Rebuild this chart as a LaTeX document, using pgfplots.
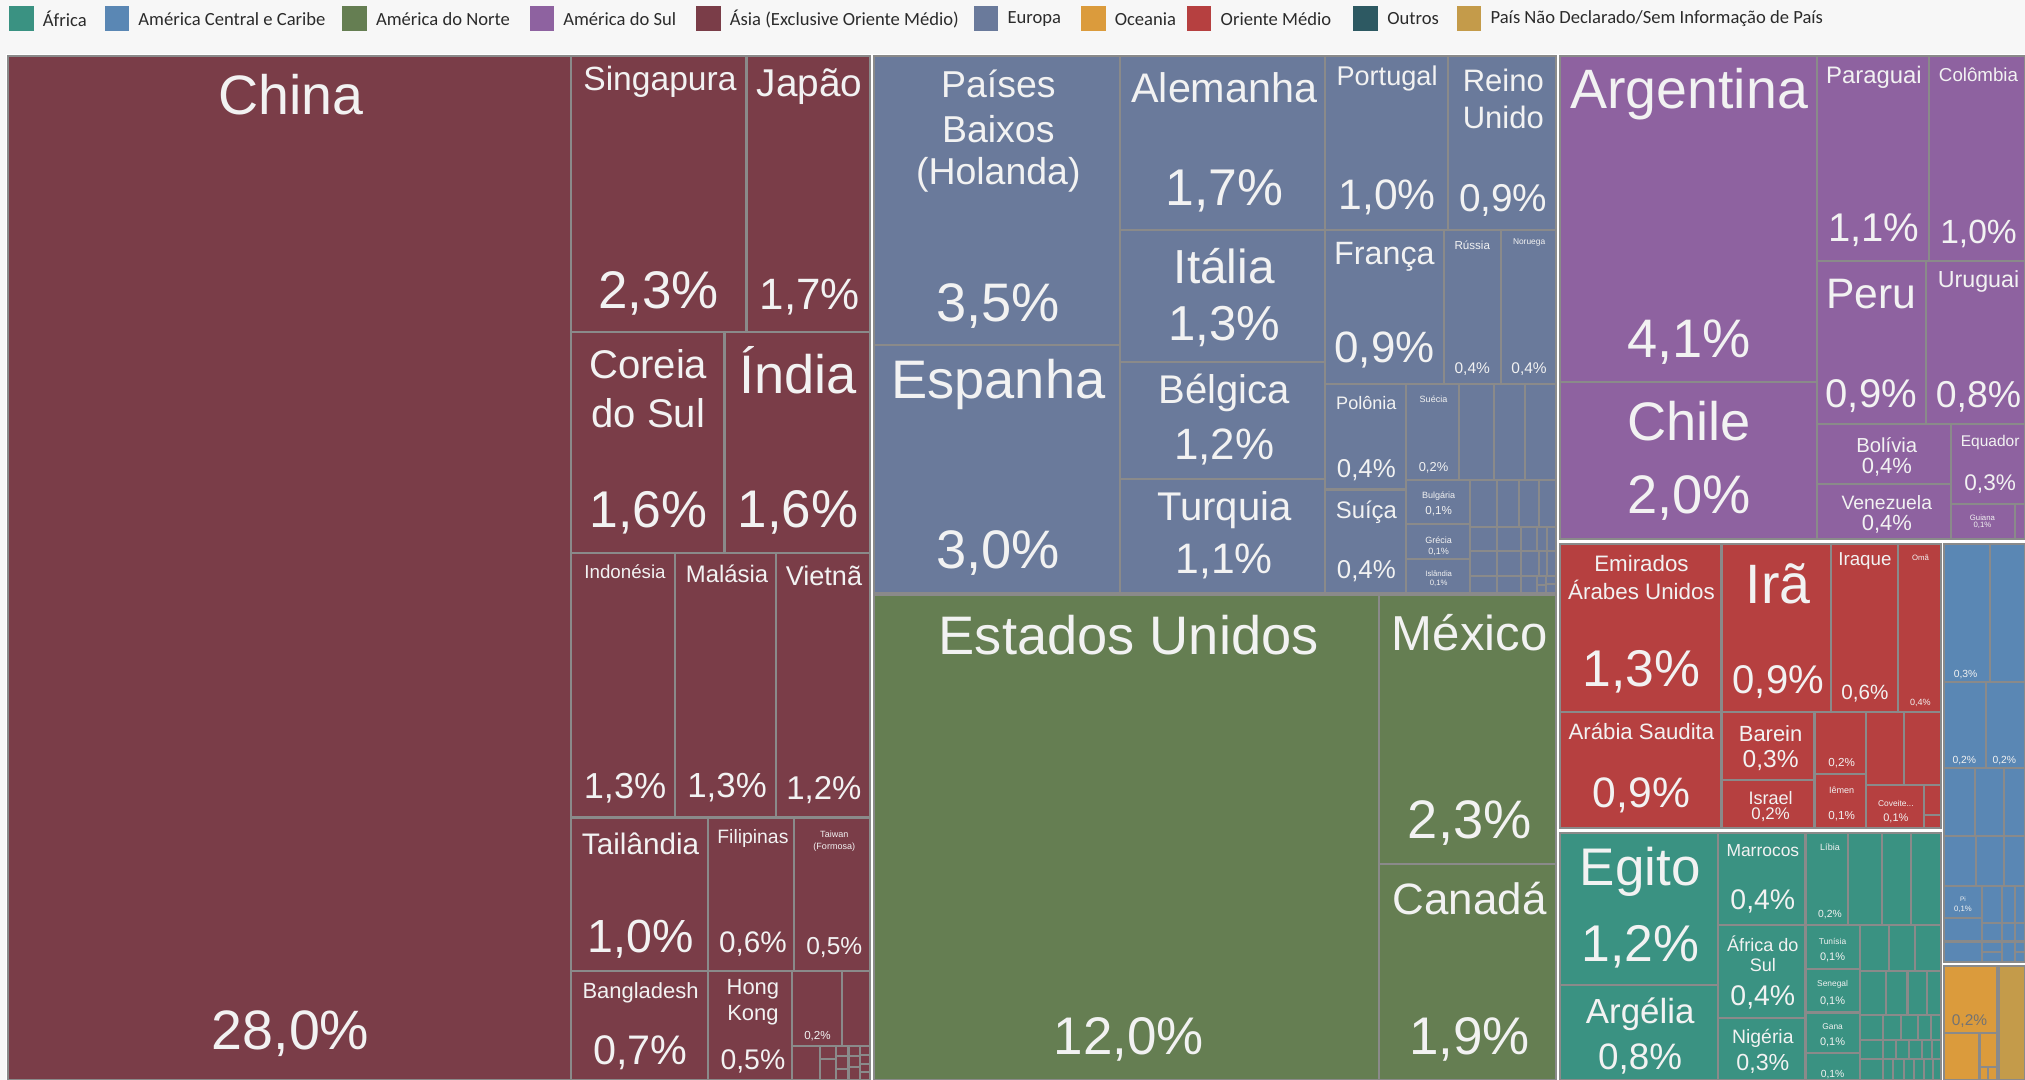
\documentclass[border=0pt]{standalone}
\usepackage{pgfplots}
\pgfplotsset{compat=1.18}
\usepackage{fontspec}
\setmainfont{Liberation Sans}
\newfontfamily\legfont{Carlito}

\definecolor{asia}{HTML}{7A3D48}
\definecolor{eur}{HTML}{6A7A9B}
\definecolor{nam}{HTML}{657E52}
\definecolor{sam}{HTML}{8E62A0}
\definecolor{mde}{HTML}{B64040}
\definecolor{afr}{HTML}{3A9282}
\definecolor{cam}{HTML}{5A87B4}
\definecolor{oce}{HTML}{DB9B3C}
\definecolor{outros}{HTML}{2D5962}
\definecolor{pnd}{HTML}{C49B4A}
\definecolor{bd}{HTML}{8A8A8A}
\definecolor{lab}{HTML}{F2F2F2}
\definecolor{legtxt}{HTML}{2B2B2B}
\definecolor{pagebg}{HTML}{F7F7F7}

% rectangle of the treemap: colour, x0, y0, x1, y1
\newcommand{\Rect}[5]{\addplot[fill=#1, draw=bd, line width=1.6pt] coordinates {(#2,#3) (#4,#3) (#4,#5) (#2,#5)} -- cycle;}
% label: size, x, y, text
\newcommand{\Lab}[4]{\node[font=\fontsize{#1}{#1}\selectfont, text=lab, inner sep=0pt, align=center] at (axis cs:#2,#3) {#4};}
% legend entry: colour, left of square, right of square, x of text, text
\newcommand{\Leg}[5]{\addplot[fill=#1, draw=none] coordinates {(#2,5) (#3,5) (#3,24) (#2,24)} -- cycle;
  \node[anchor=west, font=\legfont\fontsize{14.4}{16}\selectfont, text=legtxt, inner sep=0pt] at (axis cs:#4,14.5) {#5};}

\begin{document}
\begin{tikzpicture}
\begin{axis}[
  scale only axis, width=1568pt, height=836pt,
  xmin=0, xmax=1568, ymin=0, ymax=836, y dir=reverse,
  hide axis, no markers,
]
\addplot[fill=pagebg, draw=none] coordinates {(0,0) (1568,0) (1568,836) (0,836)} -- cycle;
\addplot[fill=white, draw=none] coordinates {(5,42) (1568,42) (1568,836) (5,836)} -- cycle;

% legend
\Leg{afr}{7}{26}{33}{África}
\Leg{cam}{81}{100}{107}{América Central e Caribe}
\Leg{nam}{265}{284}{291}{América do Norte}
\Leg{sam}{410}{429}{436}{América do Sul}
\Leg{asia}{539}{558}{565}{Ásia (Exclusive Oriente Médio)}
\Leg{eur}{754}{773}{780}{Europa}
\Leg{oce}{837}{856}{863}{Oceania}
\Leg{mde}{919}{938}{945}{Oriente Médio}
\Leg{outros}{1048}{1067}{1074}{Outros}
\Leg{pnd}{1128}{1147}{1154}{País Não Declarado/Sem Informação de País}

% Asia
\Rect{asia}{6}{43}{442}{836}
\Rect{asia}{442}{43}{578}{257}
\Rect{asia}{578}{43}{674}{257}
\Rect{asia}{442}{257}{561}{428}
\Rect{asia}{561}{257}{674}{428}
\Rect{asia}{442}{428}{523}{633}
\Rect{asia}{523}{428}{601}{633}
\Rect{asia}{601}{428}{674}{633}
\Rect{asia}{442}{633}{548}{752}
\Rect{asia}{548}{633}{615}{752}
\Rect{asia}{615}{633}{674}{752}
\Rect{asia}{442}{752}{548}{836}
\Rect{asia}{548}{752}{613}{836}
\Rect{asia}{613}{752}{652}{810}
\Rect{asia}{652}{752}{674}{810}
\Rect{asia}{613}{810}{635}{836}
\Rect{asia}{635}{810}{647}{820}
\Rect{asia}{635}{820}{647}{836}
\Rect{asia}{647}{810}{657}{818}
\Rect{asia}{647}{818}{657}{828}
\Rect{asia}{647}{828}{657}{836}
\Rect{asia}{657}{810}{666}{818}
\Rect{asia}{657}{818}{666}{826}
\Rect{asia}{657}{826}{666}{836}
\Rect{asia}{666}{810}{674}{817}
\Rect{asia}{666}{817}{674}{824}
\Rect{asia}{666}{824}{674}{830}
\Rect{asia}{666}{830}{674}{836}

% Europe
\Rect{eur}{677}{43}{867}{267}
\Rect{eur}{677}{267}{867}{459}
\Rect{eur}{867}{43}{1026}{178}
\Rect{eur}{1026}{43}{1121}{178}
\Rect{eur}{1121}{43}{1205}{178}
\Rect{eur}{867}{178}{1026}{280}
\Rect{eur}{867}{280}{1026}{371}
\Rect{eur}{867}{371}{1026}{459}
\Rect{eur}{1026}{178}{1118}{297}
\Rect{eur}{1118}{178}{1162}{297}
\Rect{eur}{1162}{178}{1205}{297}
\Rect{eur}{1026}{297}{1089}{379}
\Rect{eur}{1089}{297}{1130}{372}
\Rect{eur}{1130}{297}{1157}{372}
\Rect{eur}{1157}{297}{1181}{372}
\Rect{eur}{1181}{297}{1205}{372}
\Rect{eur}{1026}{379}{1089}{459}
\Rect{eur}{1089}{372}{1138}{406}
\Rect{eur}{1089}{406}{1138}{433}
\Rect{eur}{1089}{433}{1138}{459}
\Rect{eur}{1138}{372}{1159}{408}
\Rect{eur}{1159}{372}{1176}{408}
\Rect{eur}{1176}{372}{1192}{408}
\Rect{eur}{1192}{372}{1205}{408}
\Rect{eur}{1138}{408}{1159}{427}
\Rect{eur}{1159}{408}{1178}{427}
\Rect{eur}{1178}{408}{1190}{427}
\Rect{eur}{1190}{408}{1198}{427}
\Rect{eur}{1198}{408}{1205}{427}
\Rect{eur}{1138}{427}{1159}{446}
\Rect{eur}{1159}{427}{1178}{446}
\Rect{eur}{1178}{427}{1192}{446}
\Rect{eur}{1192}{427}{1198}{446}
\Rect{eur}{1198}{427}{1205}{446}
\Rect{eur}{1138}{446}{1159}{459}
\Rect{eur}{1159}{446}{1178}{459}
\Rect{eur}{1178}{446}{1190}{459}
\Rect{eur}{1190}{446}{1197}{453}
\Rect{eur}{1190}{453}{1197}{459}
\Rect{eur}{1197}{446}{1205}{452}
\Rect{eur}{1197}{452}{1205}{459}

% North America
\Rect{nam}{677}{461}{1068}{836}
\Rect{nam}{1068}{461}{1205}{669}
\Rect{nam}{1068}{669}{1205}{836}

% South America
\Rect{sam}{1208}{43}{1407}{296}
\Rect{sam}{1208}{296}{1407}{417}
\Rect{sam}{1407}{43}{1494}{202}
\Rect{sam}{1494}{43}{1568}{202}
\Rect{sam}{1407}{202}{1491}{328}
\Rect{sam}{1491}{202}{1568}{328}
\Rect{sam}{1407}{328}{1511}{375}
\Rect{sam}{1407}{375}{1511}{417}
\Rect{sam}{1511}{328}{1568}{390}
\Rect{sam}{1511}{390}{1560}{417}
\Rect{sam}{1560}{390}{1568}{417}

% Middle East
\Rect{mde}{1208}{421}{1333}{551}
\Rect{mde}{1333}{421}{1418}{551}
\Rect{mde}{1418}{421}{1470}{551}
\Rect{mde}{1470}{421}{1503}{551}
\Rect{mde}{1208}{551}{1333}{641}
\Rect{mde}{1333}{551}{1405}{604}
\Rect{mde}{1333}{604}{1405}{641}
\Rect{mde}{1405}{551}{1445}{599}
\Rect{mde}{1405}{599}{1445}{641}
\Rect{mde}{1445}{551}{1474}{608}
\Rect{mde}{1474}{551}{1503}{608}
\Rect{mde}{1445}{608}{1490}{641}
\Rect{mde}{1490}{608}{1503}{631}
\Rect{mde}{1490}{631}{1503}{641}

% Africa
\Rect{afr}{1208}{645}{1330}{763}
\Rect{afr}{1208}{763}{1330}{836}
\Rect{afr}{1330}{645}{1398}{716}
\Rect{afr}{1330}{716}{1398}{788}
\Rect{afr}{1330}{788}{1398}{836}
\Rect{afr}{1398}{645}{1431}{716}
\Rect{afr}{1431}{645}{1457}{716}
\Rect{afr}{1457}{645}{1480}{716}
\Rect{afr}{1480}{645}{1503}{716}
\Rect{afr}{1398}{716}{1440}{750}
\Rect{afr}{1398}{750}{1440}{784}
\Rect{afr}{1398}{784}{1440}{815}
\Rect{afr}{1398}{815}{1440}{836}
\Rect{afr}{1440}{716}{1463}{752}
\Rect{afr}{1463}{716}{1483}{752}
\Rect{afr}{1483}{716}{1503}{752}
\Rect{afr}{1440}{752}{1460}{786}
\Rect{afr}{1460}{752}{1477}{786}
\Rect{afr}{1477}{752}{1492}{786}
\Rect{afr}{1492}{752}{1503}{786}
\Rect{afr}{1440}{786}{1458}{805}
\Rect{afr}{1458}{786}{1472}{805}
\Rect{afr}{1472}{786}{1485}{805}
\Rect{afr}{1485}{786}{1495}{805}
\Rect{afr}{1495}{786}{1503}{805}
\Rect{afr}{1440}{805}{1458}{820}
\Rect{afr}{1458}{805}{1468}{820}
\Rect{afr}{1468}{805}{1478}{820}
\Rect{afr}{1478}{805}{1488}{820}
\Rect{afr}{1488}{805}{1496}{820}
\Rect{afr}{1496}{805}{1503}{820}
\Rect{afr}{1440}{820}{1458}{836}
\Rect{afr}{1458}{820}{1466}{836}
\Rect{afr}{1466}{820}{1474}{836}
\Rect{afr}{1474}{820}{1482}{836}
\Rect{afr}{1482}{820}{1490}{836}
\Rect{afr}{1490}{820}{1497}{836}
\Rect{afr}{1497}{820}{1503}{836}

% Central America and Caribbean
\Rect{cam}{1505}{421}{1541}{528}
\Rect{cam}{1541}{421}{1568}{528}
\Rect{cam}{1505}{528}{1538}{595}
\Rect{cam}{1538}{528}{1568}{595}
\Rect{cam}{1505}{595}{1529}{647}
\Rect{cam}{1529}{595}{1552}{647}
\Rect{cam}{1552}{595}{1568}{647}
\Rect{cam}{1505}{647}{1530}{686}
\Rect{cam}{1530}{647}{1552}{686}
\Rect{cam}{1552}{647}{1568}{686}
\Rect{cam}{1505}{686}{1535}{711}
\Rect{cam}{1505}{711}{1535}{729}
\Rect{cam}{1505}{729}{1535}{745}
\Rect{cam}{1535}{686}{1550}{715}
\Rect{cam}{1535}{715}{1550}{729}
\Rect{cam}{1535}{729}{1550}{737}
\Rect{cam}{1535}{737}{1550}{745}
\Rect{cam}{1550}{686}{1560}{715}
\Rect{cam}{1550}{715}{1560}{729}
\Rect{cam}{1550}{729}{1560}{745}
\Rect{cam}{1560}{686}{1568}{715}
\Rect{cam}{1560}{715}{1568}{729}
\Rect{cam}{1560}{729}{1568}{737}
\Rect{cam}{1560}{737}{1568}{745}

% Oceania and undeclared
\Rect{oce}{1505}{748}{1546}{800}
\Rect{oce}{1505}{800}{1532}{836}
\Rect{oce}{1533}{800}{1546}{826}
\Rect{oce}{1533}{826}{1539}{836}
\Rect{oce}{1539}{826}{1546}{836}
\Rect{pnd}{1548}{748}{1568}{836}

% labels: Asia
\Lab{43}{225}{73}{China}
\Lab{43}{225}{800}{28,0\%}
\Lab{26}{511}{63}{Singapura}
\Lab{41}{510}{227}{2,3\%}
\Lab{30}{627}{67}{Japão}
\Lab{34}{627}{230}{1,7\%}
\Lab{31}{502}{282}{Coreia}
\Lab{31}{502}{320}{do Sul}
\Lab{40}{502}{397}{1,6\%}
\Lab{42}{618}{287}{Índia}
\Lab{41}{618}{397}{1,6\%}
\Lab{14.5}{484}{443}{Indonésia}
\Lab{28}{484}{610}{1,3\%}
\Lab{18.5}{563}{444}{Malásia}
\Lab{27}{563}{610}{1,3\%}
\Lab{21}{638}{446}{Vietnã}
\Lab{25.5}{638}{612}{1,2\%}
\Lab{23}{496}{653}{Tailândia}
\Lab{36}{496}{727}{1,0\%}
\Lab{15}{583}{649}{Filipinas}
\Lab{23}{583}{731}{0,6\%}
\Lab{7}{646}{646}{Taiwan}
\Lab{7}{646}{656}{(Formosa)}
\Lab{19}{646}{734}{0,5\%}
\Lab{17}{496}{769}{Bangladesh}
\Lab{32}{496}{815}{0,7\%}
\Lab{17}{583}{766}{Hong}
\Lab{17}{583}{786}{Kong}
\Lab{22}{583}{822}{0,5\%}
\Lab{9}{633}{802}{0,2\%}

% labels: Europe
\Lab{29}{773}{65}{Países}
\Lab{29}{773}{100}{Baixos}
\Lab{29}{773}{135}{(Holanda)}
\Lab{42}{773}{237}{3,5\%}
\Lab{42}{773}{298}{Espanha}
\Lab{42}{773}{428}{3,0\%}
\Lab{32}{948}{68}{Alemanha}
\Lab{40}{948}{148}{1,7\%}
\Lab{21}{1074}{61}{Portugal}
\Lab{33}{1074}{153}{1,0\%}
\Lab{24}{1164}{62}{Reino}
\Lab{24}{1164}{91}{Unido}
\Lab{30}{1164}{155}{0,9\%}
\Lab{37}{948}{206}{Itália}
\Lab{38}{948}{253}{1,3\%}
\Lab{31}{948}{304}{Bélgica}
\Lab{34}{948}{346}{1,2\%}
\Lab{31}{948}{395}{Turquia}
\Lab{33}{948}{435}{1,1\%}
\Lab{25}{1072}{199}{França}
\Lab{34}{1072}{271}{0,9\%}
\Lab{9}{1140}{190}{Rússia}
\Lab{12}{1140}{286}{0,4\%}
\Lab{6.5}{1184}{188}{Noruega}
\Lab{12}{1184}{286}{0,4\%}
\Lab{14}{1058}{312}{Polônia}
\Lab{20}{1058}{364}{0,4\%}
\Lab{7}{1110}{309}{Suécia}
\Lab{10}{1110}{362}{0,2\%}
\Lab{18.5}{1058}{397}{Suíça}
\Lab{20}{1058}{442}{0,4\%}
\Lab{7}{1114}{384}{Bulgária}
\Lab{9}{1114}{396}{0,1\%}
\Lab{7}{1114}{418}{Grécia}
\Lab{7}{1114}{427}{0,1\%}
\Lab{6}{1114}{444}{Islândia}
\Lab{6}{1114}{452}{0,1\%}

% labels: North America
\Lab{42}{874}{492}{Estados Unidos}
\Lab{41}{874}{805}{12,0\%}
\Lab{38}{1138}{490}{México}
\Lab{42}{1138}{637}{2,3\%}
\Lab{34}{1138}{696}{Canadá}
\Lab{41}{1138}{805}{1,9\%}

% labels: South America
\Lab{43}{1308}{73}{Argentina}
\Lab{42}{1308}{265}{4,1\%}
\Lab{42}{1308}{326}{Chile}
\Lab{42}{1308}{386}{2,0\%}
\Lab{18.5}{1451}{60}{Paraguai}
\Lab{31}{1451}{178}{1,1\%}
\Lab{14.5}{1532}{58}{Colômbia}
\Lab{26}{1532}{181}{1,0\%}
\Lab{33}{1449}{228}{Peru}
\Lab{31}{1449}{307}{0,9\%}
\Lab{18}{1532}{218}{Uruguai}
\Lab{29}{1532}{307}{0,8\%}
\Lab{15.7}{1461}{345}{Bolívia}
\Lab{17}{1461}{362}{0,4\%}
\Lab{15}{1461}{389}{Venezuela}
\Lab{17}{1461}{406}{0,4\%}
\Lab{12}{1541}{343}{Equador}
\Lab{17.5}{1541}{375}{0,3\%}
\Lab{6}{1535}{401}{Guiana}
\Lab{6}{1535}{407}{0,1\%}

% labels: Middle East
\Lab{17.3}{1271}{436}{Emirados}
\Lab{17.3}{1271}{457}{Árabes Unidos}
\Lab{40}{1271}{520}{1,3\%}
\Lab{43}{1377}{452}{Irã}
\Lab{31}{1377}{528}{0,9\%}
\Lab{14.5}{1444}{434}{Iraque}
\Lab{16}{1444}{537}{0,6\%}
\Lab{6}{1487}{432}{Omã}
\Lab{7}{1487}{544}{0,4\%}
\Lab{17.2}{1271}{566}{Arábia Saudita}
\Lab{33}{1271}{616}{0,9\%}
\Lab{17}{1371}{568}{Barein}
\Lab{19}{1371}{589}{0,3\%}
\Lab{14}{1371}{618}{Israel}
\Lab{13}{1371}{631}{0,2\%}
\Lab{9}{1426}{591}{0,2\%}
\Lab{7}{1426}{612}{Iêmen}
\Lab{9}{1426}{632}{0,1\%}
\Lab{6.5}{1468}{622}{Coveite...}
\Lab{8.5}{1468}{634}{0,1\%}

% labels: Africa
\Lab{41}{1270}{675}{Egito}
\Lab{40}{1270}{733}{1,2\%}
\Lab{27}{1270}{785}{Argélia}
\Lab{28.5}{1270}{820}{0,8\%}
\Lab{13.5}{1365}{659}{Marrocos}
\Lab{22}{1365}{698}{0,4\%}
\Lab{7}{1417}{656}{Líbia}
\Lab{8}{1417}{708}{0,2\%}
\Lab{14}{1365}{731}{África do}
\Lab{14}{1365}{747}{Sul}
\Lab{22}{1365}{772}{0,4\%}
\Lab{15}{1365}{804}{Nigéria}
\Lab{18}{1365}{824}{0,3\%}
\Lab{6.5}{1419}{729}{Tunísia}
\Lab{8.5}{1419}{741}{0,1\%}
\Lab{6.5}{1419}{762}{Senegal}
\Lab{8.5}{1419}{775}{0,1\%}
\Lab{6.5}{1419}{795}{Gana}
\Lab{8.5}{1419}{807}{0,1\%}
\Lab{8}{1419}{832}{0,1\%}

% labels: Central America, Oceania
\Lab{8}{1522}{522}{0,3\%}
\Lab{8}{1521}{589}{0,2\%}
\Lab{8}{1552}{589}{0,2\%}
\Lab{5}{1520}{696}{Pi}
\Lab{6}{1520}{704}{0,1\%}
\node[font=\fontsize{12}{12}\selectfont, text=black!55, inner sep=0pt] at (axis cs:1525,791) {0,2\%};
\end{axis}
\end{tikzpicture}
\end{document}
